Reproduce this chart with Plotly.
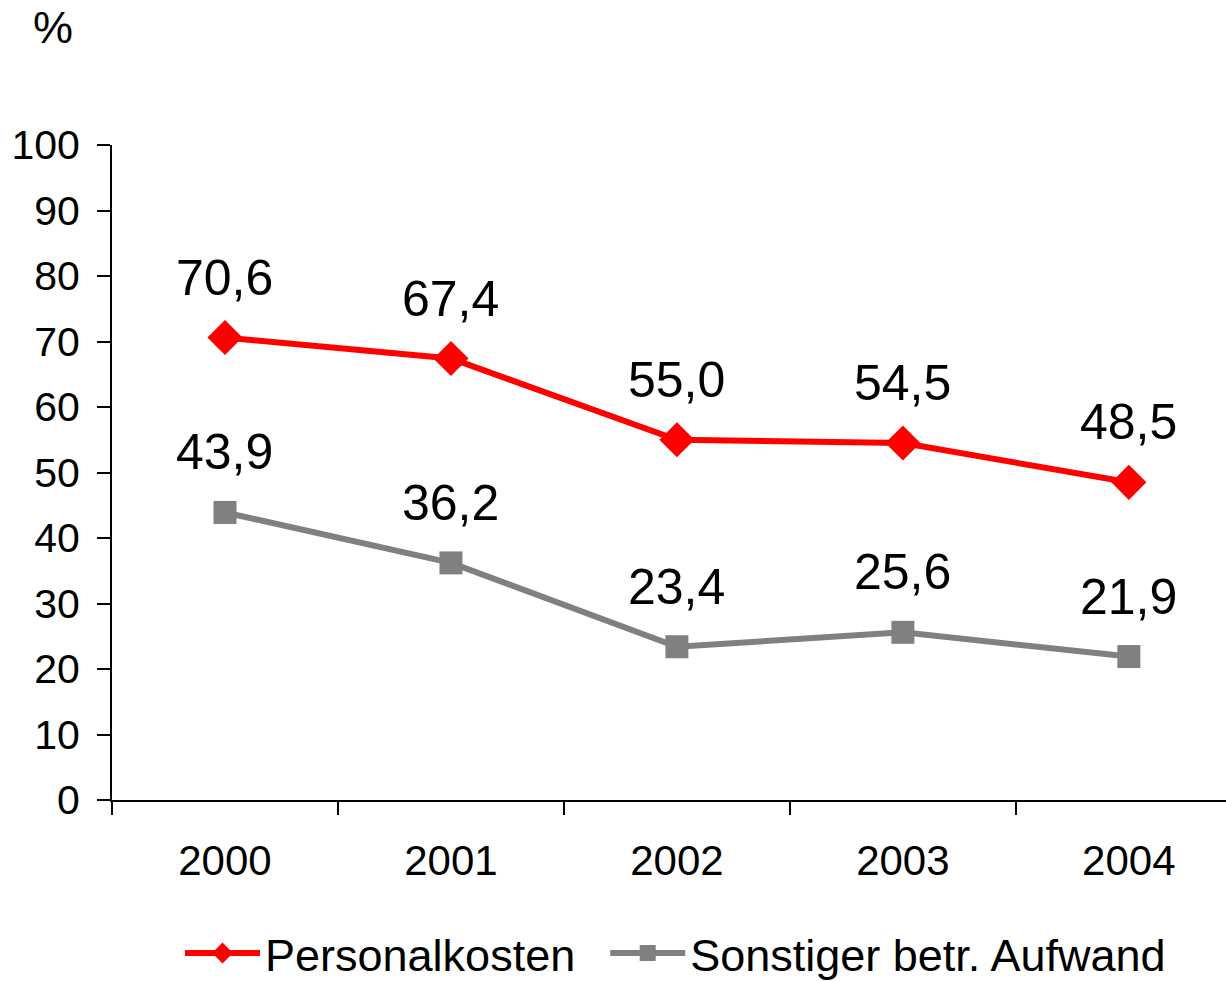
import plotly.graph_objects as go

years = ["2000", "2001", "2002", "2003", "2004"]
personal = [70.6, 67.4, 55.0, 54.5, 48.5]
sonstiger = [43.9, 36.2, 23.4, 25.6, 21.9]
series_names = ["Personalkosten", "Sonstiger betr. Aufwand"]
y_ticks = [0, 10, 20, 30, 40, 50, 60, 70, 80, 90, 100]

FONT = "Liberation Sans, Arial, sans-serif"

def fmt(v):
    return f"{v:.1f}".replace(".", ",")

fig = go.Figure()
fig.add_trace(go.Scatter(
    x=years, y=personal, name=series_names[0] + "\u00a0\u00a0", mode="lines+markers",
    line=dict(color="#FF0000", width=6),
    marker=dict(symbol="diamond", size=27, color="#FF0000"),
))
fig.add_trace(go.Scatter(
    x=years, y=sonstiger, name=series_names[1], mode="lines+markers",
    line=dict(color="#808080", width=6),
    marker=dict(symbol="square", size=23, color="#808080"),
))

annotations = []
for series in (personal, sonstiger):
    for i, v in enumerate(series):
        annotations.append(dict(
            x=i, y=v, xref="x", yref="y", text=fmt(v), showarrow=False,
            yanchor="middle", xanchor="center", yshift=60,
            font=dict(family=FONT, size=50, color="black"),
        ))
annotations.append(dict(
    x=(53 - 112) / (1226 - 112), y=1 + (145 - 28) / (800 - 145),
    xref="paper", yref="paper", text="%", showarrow=False,
    xanchor="center", yanchor="middle",
    font=dict(family=FONT, size=45, color="black"),
))

fig.update_layout(
    width=1226, height=981,
    margin=dict(l=112, r=0, t=145, b=181, autoexpand=False),
    plot_bgcolor="white", paper_bgcolor="white",
    font=dict(family=FONT, size=40, color="black"),
    showlegend=True,
    legend=dict(orientation="h", x=(180 - 112) / (1226 - 112), xanchor="left",
                y=-0.179, yanchor="top",
                font=dict(family=FONT, size=45, color="black"),
                itemwidth=75, tracegroupgap=0),
    annotations=annotations,
    xaxis=dict(
        type="category", range=[-0.5, 4.43],
        showline=True, linecolor="black", linewidth=2,
        ticks="outside", ticklen=13, tickwidth=2, tickcolor="black",
        tickson="boundaries", showgrid=False, zeroline=False,
        tickfont=dict(family=FONT, size=42, color="black"),
        ticklabelstandoff=23,
    ),
    yaxis=dict(
        range=[0, 100], tickvals=y_ticks,
        showline=True, linecolor="black", linewidth=2,
        ticks="outside", ticklen=13, tickwidth=2, tickcolor="black",
        showgrid=False, zeroline=False,
        tickfont=dict(family=FONT, size=41, color="black"),
        ticklabelstandoff=9,
    ),
)

fig.write_html("out.html", config={"displayModeBar": False},
               post_script="document.body.style.margin='0';document.body.style.padding='0';")
